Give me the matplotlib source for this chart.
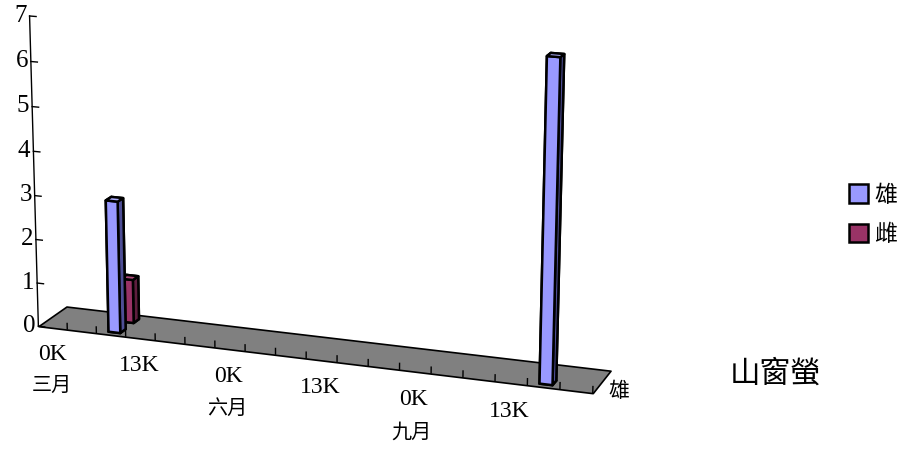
import matplotlib
matplotlib.use("Agg")
import matplotlib.pyplot as plt
from matplotlib.patches import Patch
from mpl_toolkits.mplot3d import proj3d
from mpl_toolkits.mplot3d.art3d import Poly3DCollection, Line3DCollection

plt.rcParams['font.family'] = ['Liberation Serif', 'Noto Sans CJK TC']

# ---- data ----
months = ['三月', '六月', '九月']
category_labels = ['0K', '', '', '13K', '', '',
                   '0K', '', '', '13K', '', '',
                   '0K', '', '', '13K', '', '']
series_names = ['雄', '雌']
male = [0, 0, 3, 0, 0, 0, 0, 0, 0, 0, 0, 0, 0, 0, 0, 0, 7, 0]
female = [0, 0, 1, 0, 0, 0, 0, 0, 0, 0, 0, 0, 0, 0, 0, 0, 0, 0]
value_ticks = [0, 1, 2, 3, 4, 5, 6, 7]
title = '山窗螢'

# ---- styles ----
face_colors = {
    '雄': dict(front='#9999FF', top='#B0B0FF', side='#4E4E96'),
    '雌': dict(front='#993366', top='#AD4A7A', side='#5E1E3E'),
}
floor_color = '#808080'

n_cat = len(category_labels)
n_rows = len(series_names)
vmax = value_ticks[-1]

W, H = 907, 450
fig = plt.figure(figsize=(W / 100, H / 100), dpi=100)
S, L, B = 662, -22, -82
ax = fig.add_axes([L / W, B / H, S / W, S / H], projection='3d')
ax.set_proj_type('persp', focal_length=0.8)
ax.view_init(elev=16, azim=-70)
ax.set_xlim(0, n_cat)
ax.set_ylim(0, n_rows)
ax.set_zlim(0, vmax)
ax.set_box_aspect((18, 2.1, 10), zoom=1.0)
ax.set_axis_off()
ax.computed_zorder = False

# floor
floor = Poly3DCollection([[(0, 0, 0), (n_cat, 0, 0), (n_cat, n_rows, 0), (0, n_rows, 0)]],
                         facecolor=floor_color, edgecolor='black', linewidth=1.2, zorder=1)
ax.add_collection3d(floor)

# category tick marks on the floor front edge
cat_ticks = [[(i, 0, 0), (i, 0, 0.16)] for i in range(1, n_cat + 1)]
ax.add_collection3d(Line3DCollection(cat_ticks, colors='black', linewidths=1.0, zorder=2))

# bars, back row first
bar_w, bar_d = 0.4, 0.4
for row in reversed(range(n_rows)):
    name = series_names[row]
    vals = male if row == 0 else female
    fc = face_colors[name]
    for i, v in enumerate(vals):
        if v <= 0:
            continue
        # face order: bottom, top, front, back, left, right
        cols = [fc['side'], fc['top'], fc['front'], fc['side'], fc['side'], fc['side']]
        ax.bar3d(i + 0.3, row + 0.25, 0, bar_w, bar_d, v, color=cols, shade=False,
                 edgecolor='black', linewidth=1.8, zorder=3 + (n_rows - row))

# value axis line and ticks
ax.plot([0, 0], [0, 0], [0, vmax], color='black', linewidth=1.0, zorder=6)
for t in value_ticks:
    ax.plot([0, 0.22], [0, 0], [t, t], color='black', linewidth=1.0, zorder=6)

# resolve the projection, then place labels at projected 3D anchor points
fig.canvas.draw()


def label3d(x, y, z, s, **kw):
    px, py, _ = proj3d.proj_transform(x, y, z, ax.M)
    dx, dy = ax.transData.transform((px, py))
    fig.text(dx / W, dy / H, s, **kw)


for t in value_ticks:
    label3d(-0.1, 0, t, str(t), ha='right', va='center', fontsize=18)

for i, lab in enumerate(category_labels):
    if lab:
        label3d(i + 0.45, 0, -0.62, lab, ha='center', va='center', fontsize=17)
for m, lab in enumerate(months):
    label3d(m * (n_cat // len(months)) + 0.4, 0, -1.38, lab, ha='center', va='center',
            fontsize=14.5)

# series axis label
label3d(n_cat + 0.7, 0.35, 0, series_names[0], ha='center', va='center', fontsize=15)

# legend
handles = [Patch(facecolor=face_colors[n]['front'], edgecolor='black', linewidth=1.8)
           for n in series_names]
fig.legend(handles, series_names, loc='center left', bbox_to_anchor=(0.936, 0.522),
           frameon=False, fontsize=16.5, handlelength=0.85, handleheight=0.85,
           handletextpad=0.25, labelspacing=0.75, borderpad=0, borderaxespad=0)

fig.text(0.855, 0.166, title, ha='center', va='center', fontsize=22)

fig.savefig('out.png', dpi=100)
